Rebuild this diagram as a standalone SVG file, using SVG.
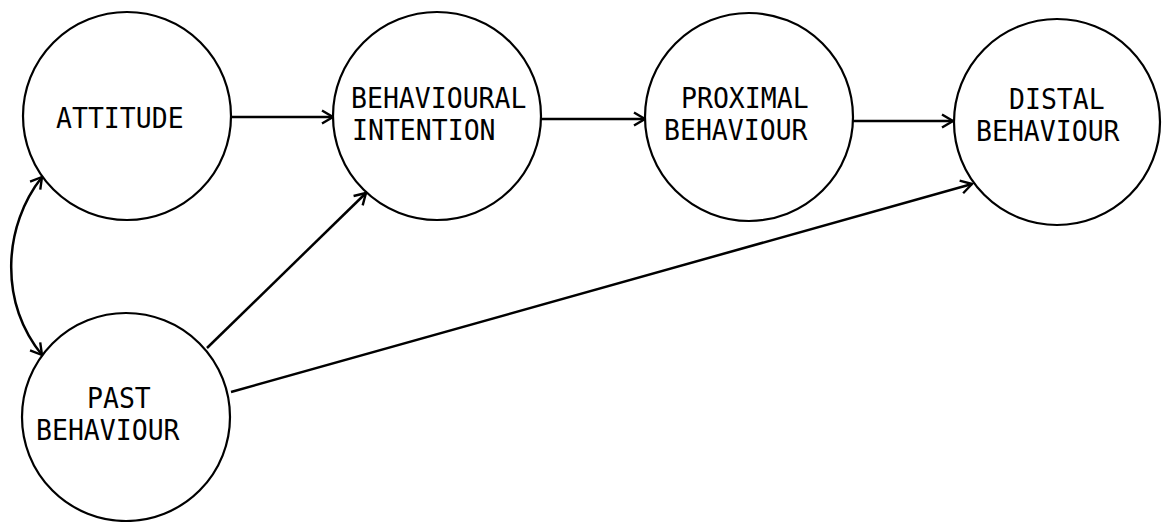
<svg xmlns="http://www.w3.org/2000/svg" width="1163" height="522" viewBox="0 0 1163 522">
  <style>
    .node { fill: #ffffff; stroke: #000000; stroke-width: 2.2; }
    .label { font-family: "DejaVu Sans Mono", "Liberation Mono", monospace; font-size: 26.5px; fill: #000000; }
    .edge { fill: none; stroke: #000000; stroke-width: 2.5; marker-end: url(#arrow); }
    .edge.both { marker-start: url(#arrow); }
  </style>
  <defs>
    <marker id="arrow" markerUnits="userSpaceOnUse" markerWidth="16" markerHeight="16" viewBox="-13 -8 15 16" refX="0" refY="0" orient="auto-start-reverse">
      <path d="M -11 -6.5 L 0 0 L -11 6.5" fill="none" stroke="#000000" stroke-width="2.4" stroke-linejoin="miter"/>
    </marker>
  </defs>
  <rect width="1163" height="522" fill="#ffffff"/>

  <g id="connectors">
    <path class="edge" d="M 231 117 L 333 117"/>
    <path class="edge" d="M 541 119 L 645 119"/>
    <path class="edge" d="M 853 121 L 953 121"/>
    <path class="edge" d="M 207 348 L 366 193"/>
    <path class="edge" d="M 231 392 L 972 184"/>
    <path class="edge both" d="M 42 177 C 4 225, -2 300, 42 355"/>
  </g>

  <!-- labels are stretched slightly upright: translate to the baseline, then scale y -->
  <g id="attitude">
    <circle class="node" cx="127" cy="116" r="104"/>
    <text class="label" transform="translate(56 128) scale(1 1.1)">ATTITUDE</text>
  </g>

  <g id="behavioural-intention">
    <circle class="node" cx="437" cy="116" r="104"/>
    <text class="label" transform="translate(351 108) scale(1 1.1)">BEHAVIOURAL</text>
    <text class="label" transform="translate(352 140) scale(1 1.1)">INTENTION</text>
  </g>

  <g id="proximal-behaviour">
    <circle class="node" cx="749" cy="117" r="104"/>
    <text class="label" transform="translate(681 108) scale(1 1.1)">PROXIMAL</text>
    <text class="label" transform="translate(664 140) scale(1 1.1)">BEHAVIOUR</text>
  </g>

  <g id="distal-behaviour">
    <circle class="node" cx="1057" cy="122" r="103"/>
    <text class="label" transform="translate(1009 109) scale(1 1.1)">DISTAL</text>
    <text class="label" transform="translate(976 141) scale(1 1.1)">BEHAVIOUR</text>
  </g>

  <g id="past-behaviour">
    <circle class="node" cx="126" cy="417" r="104"/>
    <text class="label" transform="translate(87 408) scale(1 1.1)">PAST</text>
    <text class="label" transform="translate(36 440) scale(1 1.1)">BEHAVIOUR</text>
  </g>
</svg>
